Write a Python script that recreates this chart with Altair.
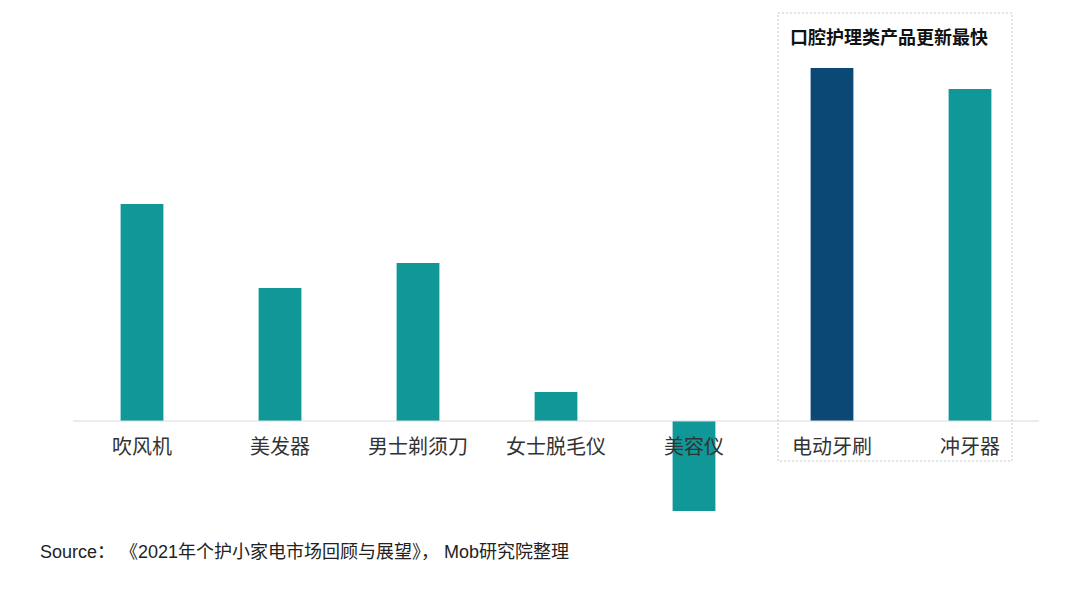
import altair as alt
import pandas as pd

categories = ["吹风机", "美发器", "男士剃须刀", "女士脱毛仪", "美容仪", "电动牙刷", "冲牙器"]
values = [217, 133, 158, 29, -90, 353, 332]
highlight = ["否", "否", "否", "否", "否", "是", "否"]

title_text = "口腔护理类产品更新最快"
source_text = "Source： 《2021年个护小家电市场回顾与展望》，  Mob研究院整理"

df = pd.DataFrame({"cat": categories, "val": values, "hl": highlight})

FONT = '"Liberation Sans", "Noto Sans CJK SC", sans-serif'
CJK = '"Noto Sans CJK SC", sans-serif'

W, H = 966, 520
xsc = alt.Scale(domain=categories, paddingInner=0.69, paddingOuter=0.345)
ysc = alt.Scale(domain=[-110, 410], nice=False, zero=False)

base = alt.Chart(df)

bars = base.mark_bar().encode(
    x=alt.X("cat:N", scale=xsc, axis=None, sort=categories),
    y=alt.Y("val:Q", scale=ysc, axis=None),
    y2=alt.datum(0),
    color=alt.Color("hl:N", scale=alt.Scale(domain=["否", "是"], range=["#109797", "#0c4876"]), legend=None),
)

baseline = alt.Chart(pd.DataFrame({"z": [0]})).mark_rule(color="#d9d9d9", strokeWidth=1.2).encode(
    y=alt.Y("z:Q", scale=ysc, axis=None),
    x=alt.value(0), x2=alt.value(W),
)

labels = base.mark_text(fontSize=20, font=CJK, color="#333333", baseline="middle", dy=27).encode(
    x=alt.X("cat:N", scale=xsc, axis=None, sort=categories),
    y=alt.datum(0),
    text="cat:N",
)

box = alt.Chart(pd.DataFrame({"t": [408], "b": [-40]})).mark_rect(
    fill=None, stroke="#c8c8c8", strokeWidth=1, strokeDash=[2, 2]
).encode(
    x=alt.value(705), x2=alt.value(939),
    y=alt.Y("t:Q", scale=ysc, axis=None), y2="b:Q",
)

title = alt.Chart(pd.DataFrame({"t": [title_text]})).mark_text(
    fontSize=18, font=CJK, fontWeight="bold", color="#111111", align="left", baseline="middle"
).encode(x=alt.value(717), y=alt.value(28), text="t:N")

source = alt.Chart(pd.DataFrame({"t": [source_text]})).mark_text(
    fontSize=18, font=FONT, color="#222222", align="left", baseline="middle"
).encode(x=alt.value(-33), y=alt.value(542), text="t:N")

chart = alt.layer(box, bars, baseline, labels, title, source).properties(
    width=W, height=H,
    background="white",
    autosize=alt.AutoSizeParams(type="none"),
    padding={"left": 65, "top": 3, "right": 30, "bottom": 50},
).configure_view(stroke=None, strokeWidth=0)

chart.save("out.html", embed_options={"renderer": "svg", "actions": False})
